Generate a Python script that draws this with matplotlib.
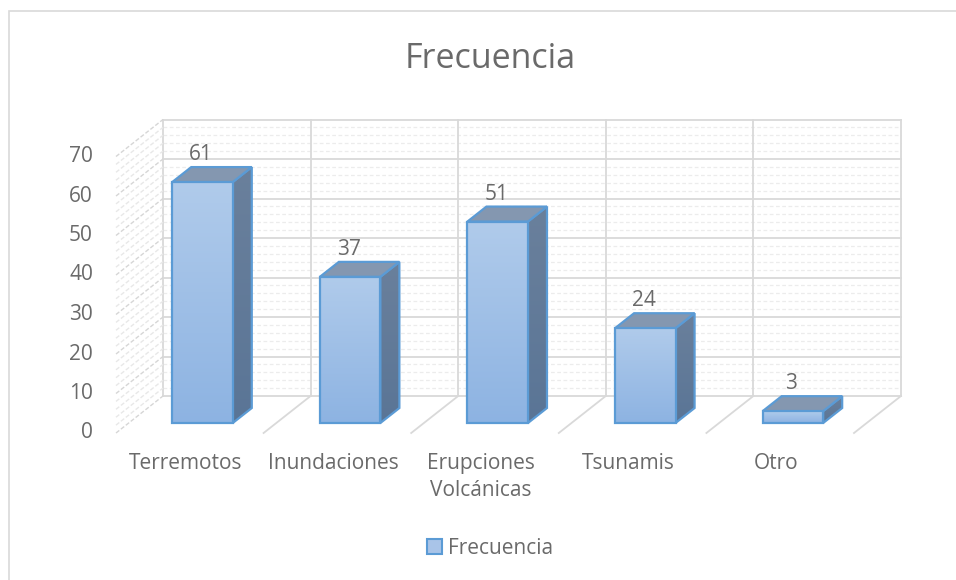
import numpy as np
import matplotlib.pyplot as plt
from matplotlib.patches import Polygon, Rectangle
from matplotlib.colors import LinearSegmentedColormap

categories = ['Terremotos', 'Inundaciones', 'Erupciones\nVolcánicas', 'Tsunamis', 'Otro']
values = [61, 37, 51, 24, 3]
yticks = [0, 10, 20, 30, 40, 50, 60, 70]
series_name = 'Frecuencia'

W, H = 956, 580
PX_CAT, PX_VAL = 147.6, 3.95     # pixels per category / per unit
X0, Y0 = 116, 433                # front floor origin in pixels (from top-left)
DX, DY = 47 / PX_CAT, 37 / PX_VAL  # full depth offset in data units
D_FRONT, D_BACK = 0.27, 0.675    # bar depth range
BAR_W = 0.41
VMAX = 70

TXT = '#6a6a6a'
GRID = '#d9d9d9'
FS = 15
plt.rcParams['font.family'] = ['Open Sans', 'DejaVu Sans']


def proj(x, v, d):
    return x + DX * d, v + DY * d


fig = plt.figure(figsize=(W / 100, H / 100), dpi=100)
ax = fig.add_axes([0, 0, 1, 1])
ax.set_xlim(-X0 / PX_CAT, (W - X0) / PX_CAT)
ax.set_ylim(-(H - Y0) / PX_VAL, Y0 / PX_VAL)
ax.axis('off')

# outer chart frame
fig.patches.append(Rectangle((9 / W, -0.1), 1.1, 1 - 11 / H + 0.1, transform=fig.transFigure,
                             fill=False, edgecolor=GRID, lw=1.2))
fig.text(440 / W, 1 + 13 / H, 'p', family='Liberation Serif', fontsize=22,
         ha='center', va='bottom', color='black')

n = len(categories)

# back wall minor + major gridlines
for v in range(0, VMAX + 1, 2):
    xa, ya = proj(0, v, 1)
    xb, yb = proj(n, v, 1)
    if v % 10 == 0:
        ax.plot([xa, xb], [ya, yb], color=GRID, lw=1.3, zorder=1)
    else:
        ax.plot([xa, xb], [ya, yb], color='#ececec', lw=0.9, ls=(0, (3, 2)), zorder=1)
for i in range(n + 1):
    xa, ya = proj(i, 0, 1)
    xb, yb = proj(i, VMAX, 1)
    ax.plot([xa, xb], [ya, yb], color=GRID, lw=1.3, zorder=1)

# left side wall
for v in range(0, VMAX + 1, 2):
    xa, ya = proj(0, v, 0)
    xb, yb = proj(0, v, 1)
    col = '#d6d6d6' if v % 10 == 0 else '#e8e8e8'
    ax.plot([xa, xb], [ya, yb], color=col, lw=1.0, ls=(0, (3, 1.5)), zorder=1)

# floor lines
for i in range(1, n + 1):
    xa, ya = proj(i, 0, 0)
    xb, yb = proj(i, 0, 1)
    ax.plot([xa, xb], [ya, yb], color=GRID, lw=1.3, zorder=1)

# y tick labels
for t in yticks:
    ax.annotate(str(t), proj(0, t, 0), xytext=(-23, 0), textcoords='offset pixels',
                ha='right', va='center', fontsize=FS, color=TXT)

# bars
grad = np.linspace(0, 1, 256).reshape(-1, 1)
edge = '#5b9bd5'
front_cmap = LinearSegmentedColormap.from_list('f', ['#b0cbeb', '#8db3e2'])
side_cmap = LinearSegmentedColormap.from_list('s', ['#6a809c', '#5a7596'])
for i, v in enumerate(values):
    xl, xr = i + 0.5 - BAR_W / 2, i + 0.5 + BAR_W / 2
    fx0, fy0 = proj(xl, 0, D_FRONT)
    fx1, fy1 = proj(xr, v, D_FRONT)
    front = Polygon([(fx0, fy0), (fx1, fy0), (fx1, fy1), (fx0, fy1)], closed=True,
                    facecolor='none', edgecolor=edge, lw=1.6, zorder=5)
    ax.add_patch(front)
    im = ax.imshow(grad, extent=[fx0, fx1, fy0, fy1], origin='upper', aspect='auto',
                   cmap=front_cmap, zorder=4)
    im.set_clip_path(front)
    side_pts = [proj(xr, 0, D_FRONT), proj(xr, v, D_FRONT), proj(xr, v, D_BACK),
                proj(xr, 0, D_BACK)]
    side = Polygon(side_pts, closed=True, facecolor='none', edgecolor=edge, lw=1.6, zorder=3.5)
    ax.add_patch(side)
    sx = [p[0] for p in side_pts]
    sy = [p[1] for p in side_pts]
    im2 = ax.imshow(grad, extent=[min(sx), max(sx), min(sy), max(sy)], origin='upper',
                    aspect='auto', cmap=side_cmap, zorder=3)
    im2.set_clip_path(side)
    top = Polygon([proj(xl, v, D_FRONT), proj(xr, v, D_FRONT), proj(xr, v, D_BACK),
                   proj(xl, v, D_BACK)], closed=True, facecolor='#8497b0',
                  edgecolor=edge, lw=1.6, zorder=3.6)
    ax.add_patch(top)
    _, ly = proj(i + 0.49, v, D_BACK)
    lx, _ = proj(i + 0.49, v, D_FRONT)
    ax.annotate(str(v), (lx, ly), xytext=(0, 2), textcoords='offset pixels',
                ha='center', va='bottom', fontsize=FS, color=TXT, zorder=6)

# category labels
for i, c in enumerate(categories):
    ax.annotate(c, proj(i + 0.5, 0, 0), xytext=(-4, -20), textcoords='offset pixels',
                ha='center', va='top', fontsize=FS, color=TXT, linespacing=1.35)

fig.text(490 / W, 1 - 59 / H, 'Frecuencia', ha='center', va='center', fontsize=24.5, color=TXT)

handle = Rectangle((0, 0), 1, 1, facecolor='#a9c4e8', edgecolor=edge, lw=1.5)
fig.legend([handle], [series_name], loc='center', bbox_to_anchor=(490 / W, 1 - 548 / H),
           frameon=False, fontsize=FS, handlelength=0.7, handleheight=0.7,
           handletextpad=0.3, labelcolor=TXT)

fig.savefig('out.png', dpi=100)
